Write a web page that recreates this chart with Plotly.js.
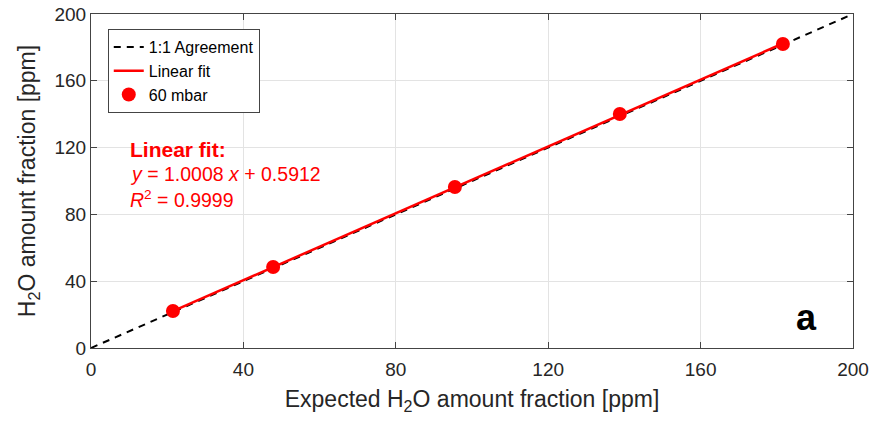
<!DOCTYPE html>
<html><head><meta charset="utf-8">
<script src="https://cdn.plot.ly/plotly-3.0.1.min.js"></script>
<style>html,body{margin:0;padding:0;background:#fff}#c{width:874px;height:425px}</style>
</head><body><div id="c"></div>
<script>
const expected = [21.5, 47.8, 95.5, 138.8, 181.6];
const measured = [22.2, 48.5, 96.4, 140.1, 182.0];
const errors = [0.5, 0.5, 0.5, 0.5, 0.5];
const oneToOne = [0, 200];
const fitSlope = 1.0008, fitIntercept = 0.5912;
const fitX = [expected[0], expected[expected.length - 1]];
const fitY = fitX.map(x => fitSlope * x + fitIntercept);
const ticks = [0, 40, 80, 120, 160, 200];

const font = 'Liberation Sans, Arial, sans-serif';
const traces = [
  {x: oneToOne, y: oneToOne, mode: 'lines', name: '1:1 Agreement',
   line: {color: '#000', dash: '7px,6px', width: 2}},
  {x: fitX, y: fitY, mode: 'lines', name: 'Linear fit',
   line: {color: '#ff0000', width: 2.5}},
  {x: expected, y: measured, mode: 'markers', name: '60 mbar',
   marker: {color: '#ff0000', size: 14},
   error_y: {type: 'data', array: errors, color: '#ff0000', thickness: 1.5, width: 5}}
];
const axis = {
  range: [0, 200], tickvals: ticks, ticks: 'inside', ticklen: 6, tickcolor: '#444',
  showline: true, linecolor: '#444', linewidth: 1, mirror: 'ticks',
  showgrid: true, gridcolor: '#e3e3e3', zeroline: false,
  tickfont: {family: font, size: 19, color: '#262626'}
};
const layout = {
  width: 874, height: 425,
  margin: {l: 91, r: 21, t: 14, b: 77},
  paper_bgcolor: '#fff', plot_bgcolor: '#fff',
  font: {family: font, color: '#262626'},
  xaxis: Object.assign({}, axis, {ticklabelstandoff: 4, title: {text: 'Expected H<sub>2</sub>O amount fraction [ppm]', font: {family: font, size: 23, color: '#262626'}, standoff: 12}}),
  yaxis: Object.assign({}, axis, {title: {text: 'H<sub>2</sub>O amount fraction [ppm]', font: {family: font, size: 23, color: '#262626'}, standoff: 12}}),
  showlegend: true,
  legend: {x: 0.022, y: 0.955, xanchor: 'left', yanchor: 'top',
    bgcolor: '#fff', bordercolor: '#444', borderwidth: 1,
    font: {family: font, size: 16, color: '#000'}, tracegroupgap: 0, itemwidth: 30},
  annotations: [
    {xref: 'paper', yref: 'paper', x: 0.048, y: 0.593, xanchor: 'left', yanchor: 'middle',
     text: '<b>Linear fit:</b>', showarrow: false, font: {family: font, size: 21, color: '#ff0000'}},
    {xref: 'paper', yref: 'paper', x: 0.048, y: 0.521, xanchor: 'left', yanchor: 'middle',
     text: '<i>y</i> = 1.0008 <i>x</i> + 0.5912', showarrow: false, font: {family: font, size: 19.5, color: '#ff0000'}},
    {xref: 'paper', yref: 'paper', x: 0.048, y: 0.446, xanchor: 'left', yanchor: 'middle',
     text: '<i>R</i><sup>2</sup> = 0.9999', showarrow: false, font: {family: font, size: 19.5, color: '#ff0000'}},
    {xref: 'paper', yref: 'paper', x: 0.939, y: 0.09, xanchor: 'center', yanchor: 'middle',
     text: '<b>a</b>', showarrow: false, font: {family: font, size: 36, color: '#000'}}
  ]
};
Plotly.newPlot('c', traces, layout, {displayModeBar: false, staticPlot: true});
</script></body></html>
